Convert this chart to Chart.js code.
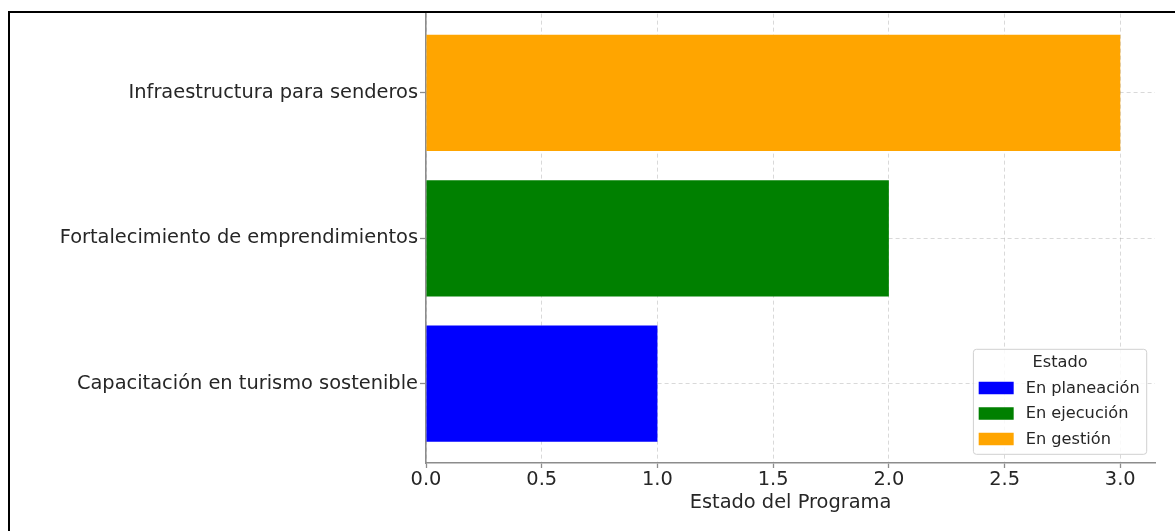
<!DOCTYPE html>
<html>
<head>
<meta charset="utf-8">
<script src="https://cdn.jsdelivr.net/npm/chart.js@4"></script>
<style>
  html, body { margin: 0; padding: 0; background: #fff; }
  #wrap { position: relative; width: 1175px; height: 531px; overflow: hidden; }
  #frame { position: absolute; left: 8px; top: 11px; right: -10px; bottom: -10px;
           border-top: 2px solid #000; border-left: 2px solid #000; pointer-events: none; }
</style>
</head>
<body>
<div id="wrap">
  <canvas id="c" width="1175" height="531"></canvas>
  <div id="frame"></div>
</div>
<script>
// ---- data ----
const CATEGORIES = ['Capacitación en turismo sostenible', 'Fortalecimiento de emprendimientos', 'Infraestructura para senderos'];
const VALUES = [1, 2, 3];
const STATUS_OF_CATEGORY = [0, 1, 2];
const STATUS_LABELS = ['En planeación', 'En ejecución', 'En gestión'];
const STATUS_COLORS = ['#0000FF', '#008000', '#FFA500'];
const LEGEND_TITLE = 'Estado';
const X_TICKS = [0, 0.5, 1.0, 1.5, 2.0, 2.5, 3.0];
const X_TICK_LABELS = ['0.0', '0.5', '1.0', '1.5', '2.0', '2.5', '3.0'];
const X_TITLE = 'Estado del Programa';

const FONT = '"DejaVu Sans", "Liberation Sans", sans-serif';
const TEXT = '#262626';
const SPINE = '#8c8c8c';
const GRID = 'rgba(160,160,160,0.4)';

const legendPlugin = {
  id: 'boxLegend',
  afterDraw(chart) {
    const { ctx, chartArea: a } = chart;
    const fs = 16.2;
    ctx.save();
    ctx.font = fs + 'px ' + FONT;
    const patchW = 35, patchH = 12.5, padL = 5.3, gap = 12, padR = 7;
    let maxW = 0;
    STATUS_LABELS.forEach(l => { maxW = Math.max(maxW, ctx.measureText(l).width); });
    const w = padL + patchW + gap + maxW + padR;
    const rowH = 25.5;
    const boxH = 105;
    const x = a.right - 8.3 - w;
    const y = a.bottom - 8.7 - boxH;
    ctx.beginPath();
    if (ctx.roundRect) ctx.roundRect(x, y, w, boxH, 3); else ctx.rect(x, y, w, boxH);
    ctx.fillStyle = 'rgba(255,255,255,0.85)';
    ctx.fill();
    ctx.lineWidth = 1;
    ctx.strokeStyle = '#d0d0d0';
    ctx.stroke();
    ctx.fillStyle = TEXT;
    ctx.textAlign = 'center';
    ctx.textBaseline = 'middle';
    ctx.fillText(LEGEND_TITLE, x + w / 2, y + 13.7);
    ctx.textAlign = 'left';
    STATUS_LABELS.forEach((l, i) => {
      const cy = y + 38.7 + i * rowH;
      ctx.fillStyle = STATUS_COLORS[i];
      ctx.fillRect(x + padL, cy - patchH / 2, patchW, patchH);
      ctx.fillStyle = TEXT;
      ctx.fillText(l, x + padL + patchW + gap, cy + 0.5);
    });
    ctx.restore();
  }
};

new Chart(document.getElementById('c'), {
  type: 'bar',
  data: {
    datasets: [{
      data: CATEGORIES.map((c, i) => ({ x: VALUES[i], y: i })),
      backgroundColor: STATUS_OF_CATEGORY.map(s => STATUS_COLORS[s]),
      borderWidth: 0,
      barPercentage: 0.8,
      categoryPercentage: 1.0
    }]
  },
  options: {
    indexAxis: 'y',
    responsive: false,
    animation: false,
    layout: { padding: { left: 0, top: 10, right: 20, bottom: 0 } },
    plugins: { legend: { display: false }, tooltip: { enabled: false } },
    scales: {
      x: {
        type: 'linear',
        min: 0,
        max: 3.15,
        offset: false,
        z: 1,
        afterBuildTicks: s => { s.ticks = X_TICKS.map(v => ({ value: v })); },
        afterFit: s => { s.height = 68; },
        ticks: {
          callback: (v, i) => X_TICK_LABELS[i],
          font: { family: FONT, size: 19.4 },
          color: TEXT,
          padding: 0,
          maxRotation: 0
        },
        grid: { color: GRID, lineWidth: 1, offset: false, tickLength: 5, tickColor: SPINE, tickWidth: 1.3 },
        border: { color: SPINE, width: 1.6, dash: [4, 3] },
        title: {
          display: true, text: X_TITLE, color: TEXT,
          font: { family: FONT, size: 19.4 },
          padding: { top: 0, bottom: 16 }
        }
      },
      y: {
        type: 'linear',
        min: -0.546,
        max: 2.546,
        offset: false,
        z: 1,
        afterBuildTicks: s => { s.ticks = CATEGORIES.map((c, i) => ({ value: i })); },
        afterFit: s => { s.width = 426; },
        ticks: {
          callback: (v) => CATEGORIES[v],
          font: { family: FONT, size: 19.4 },
          color: TEXT,
          padding: 2
        },
        grid: { color: GRID, lineWidth: 1, offset: false, tickLength: 6, tickColor: SPINE, tickWidth: 1.3 },
        border: { color: SPINE, width: 1.6, dash: [4, 3] }
      }
    }
  },
  plugins: [legendPlugin]
});
</script>
</body>
</html>
